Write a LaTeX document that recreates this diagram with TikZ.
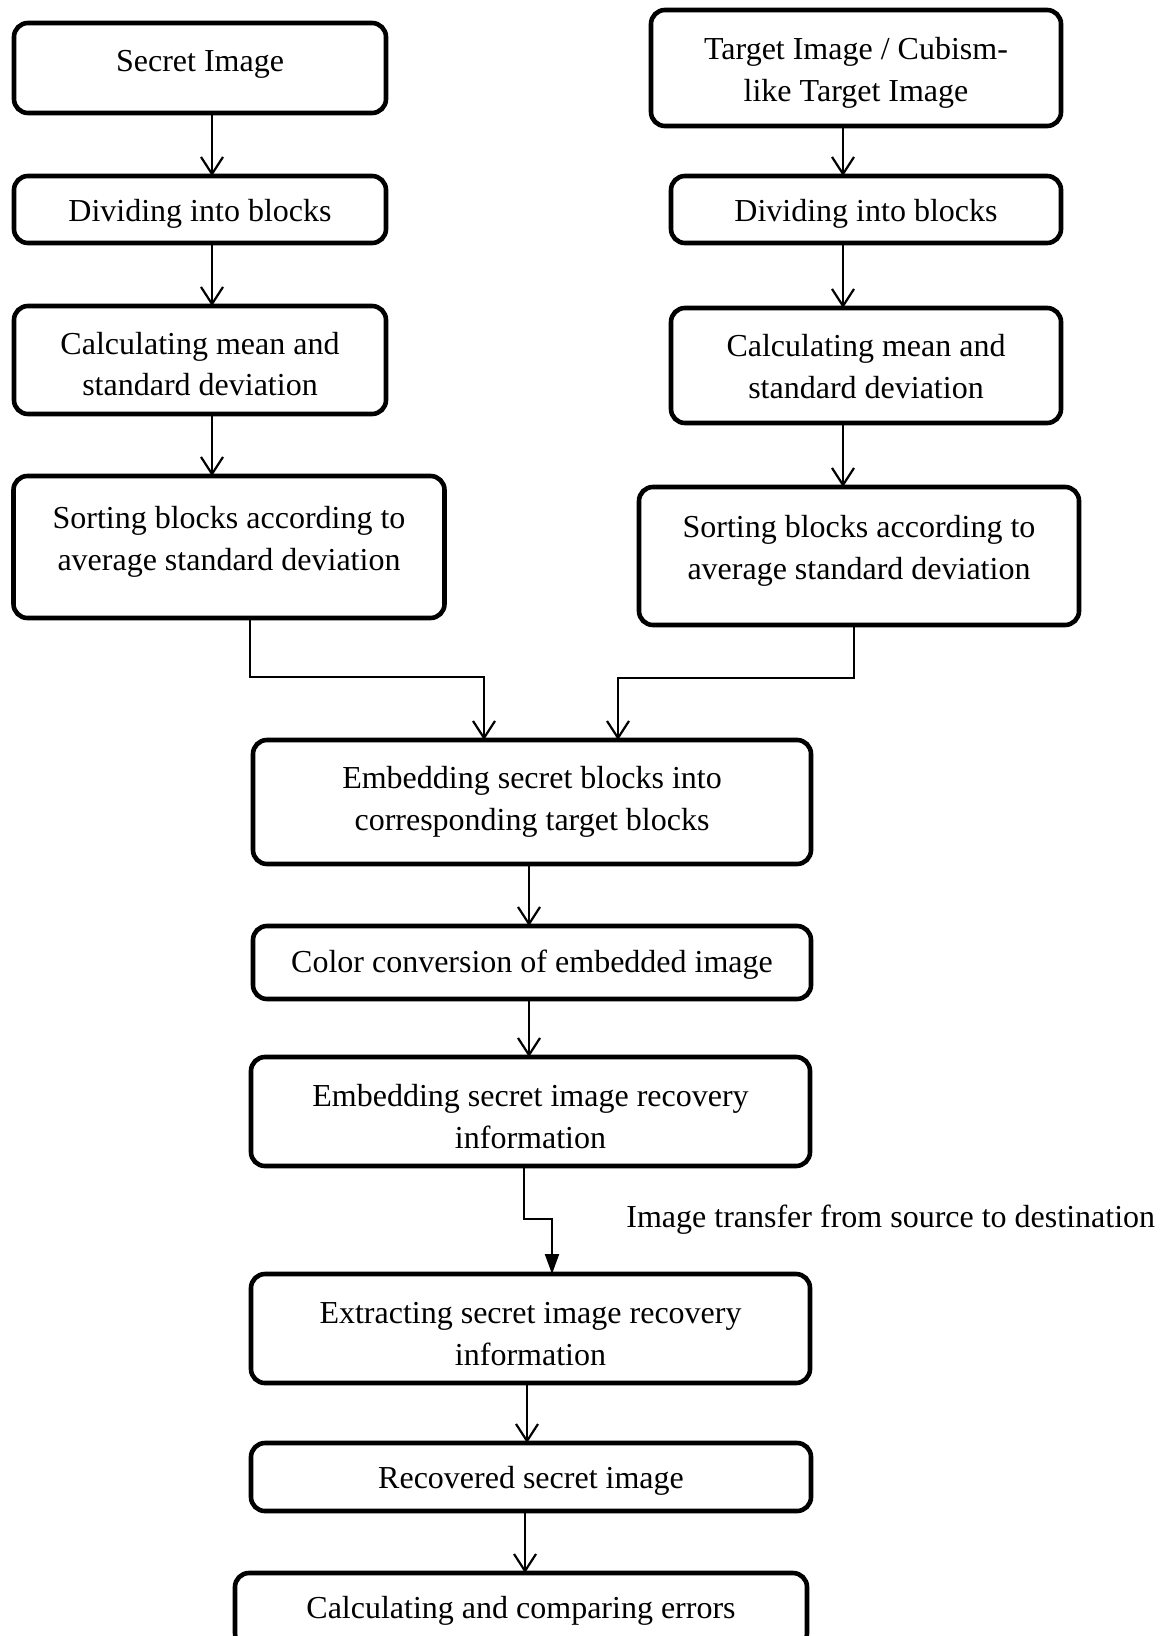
\documentclass[tikz,border=0pt]{standalone}
\usepackage{fontspec}
\setmainfont{Liberation Serif}
\usetikzlibrary{arrows.meta,calc}
\newcommand\dnr[1]{\rule{0pt}{\dimexpr 11pt+#1\relax}}
\begin{document}
\begin{tikzpicture}[x=0.5pt,y=-0.5pt,
  box/.style={draw,line width=2.3pt,rounded corners=7pt,inner sep=0pt,outer sep=0pt,
    align=center,font=\fontsize{16}{20.8}\selectfont},
  upw/.style={execute at end node={\rule[-\dimexpr 3.5pt+#1\relax]{0pt}{0pt}}},
  arr/.style={line width=1.1pt,-{Straight Barb[length=8.5pt,width=11pt,line width=1.1pt]}},
  tri/.style={line width=1.1pt,-{Triangle[length=10pt,width=7pt]}},
  conn/.style={line width=1.1pt}]
\useasboundingbox (0,0) rectangle (1173,1636);
\clip (0,0) rectangle (1173,1636);
% left column
\node[box,minimum width=186pt,minimum height=45pt,text depth=12pt] (s1) at (200,68) {\dnr{4.2pt}Secret Image};
\node[box,minimum width=186pt,minimum height=33.5pt] (s2) at (200,209.5) {\dnr{4.2pt}Dividing into blocks};
\node[box,minimum width=186pt,minimum height=54pt] (s3) at (200,360) {\dnr{4.2pt}Calculating mean and\\standard deviation};
\node[box,minimum width=215.5pt,minimum height=71pt,upw=5.2pt] (s4) at (229,547) {Sorting blocks according to\\average standard deviation};
% right column
\node[box,minimum width=205pt,minimum height=58pt] (t1) at (856,68) {\dnr{5.2pt}Target Image / Cubism-\\like Target Image};
\node[box,minimum width=195pt,minimum height=33.5pt] (t2) at (866,209.5) {\dnr{4.2pt}Dividing into blocks};
\node[box,minimum width=195pt,minimum height=57.5pt] (t3) at (866,365.5) {\dnr{1pt}Calculating mean and\\standard deviation};
\node[box,minimum width=220pt,minimum height=69pt,upw=5.2pt] (t4) at (859,556) {Sorting blocks according to\\average standard deviation};
% middle
\node[box,minimum width=279pt,minimum height=62pt] (m1) at (532,802) {Embedding secret blocks into\\corresponding target blocks};
\node[box,minimum width=279pt,minimum height=36.5pt] (m2) at (532,962.5) {\dnr{2.1pt}Color conversion of embedded image};
\node[box,minimum width=279.5pt,minimum height=54.5pt] (m3) at (530.5,1111.5) {\dnr{5.2pt}Embedding secret image recovery\\information};
\node[box,minimum width=279.5pt,minimum height=54.5pt] (m4) at (530.5,1328.5) {\dnr{5.2pt}Extracting secret image recovery\\information};
\node[box,minimum width=280pt,minimum height=34pt] (m5) at (531,1477) {\dnr{4.2pt}Recovered secret image};
\node[box,minimum width=286pt,minimum height=37pt] (m6) at (521,1610) {\dnr{1pt}Calculating and comparing errors};
\node[anchor=west,inner sep=0pt,font=\fontsize{16}{20.8}\selectfont] (lbl) at (626,1220) {Image transfer from source to destination};
% helper coordinates
\coordinate (lx) at (212,0);
\coordinate (rx) at (843,0);
\coordinate (cl) at (250,677);
\coordinate (cl2) at (484,677);
\coordinate (cr) at (854,678);
\coordinate (cr2) at (618,678);
\coordinate (ma) at (529,0);
\coordinate (tr1) at (524,1219);
\coordinate (tr2) at (552,1219);
\coordinate (mb) at (527,0);
\coordinate (mc) at (525,0);
% left arrows
\draw[arr] (s1.south -| lx) -- (s2.north -| lx);
\draw[arr] (s2.south -| lx) -- (s3.north -| lx);
\draw[arr] (s3.south -| lx) -- (s4.north -| lx);
% right arrows
\draw[arr] (t1.south -| rx) -- (t2.north -| rx);
\draw[arr] (t2.south -| rx) -- (t3.north -| rx);
\draw[arr] (t3.south -| rx) -- (t4.north -| rx);
% merge connectors
\draw[arr] (s4.south -| cl) -- (cl) -- (cl2) -- (m1.north -| cl2);
\draw[arr] (t4.south -| cr) -- (cr) -- (cr2) -- (m1.north -| cr2);
% middle
\draw[arr] (m1.south -| ma) -- (m2.north -| ma);
\draw[arr] (m2.south -| ma) -- (m3.north -| ma);
\draw[tri] (m3.south -| tr1) -- (tr1) -- (tr2) -- (m4.north -| tr2);
\draw[arr] (m4.south -| mb) -- (m5.north -| mb);
\draw[arr] (m5.south -| mc) -- (m6.north -| mc);
\end{tikzpicture}
\end{document}
